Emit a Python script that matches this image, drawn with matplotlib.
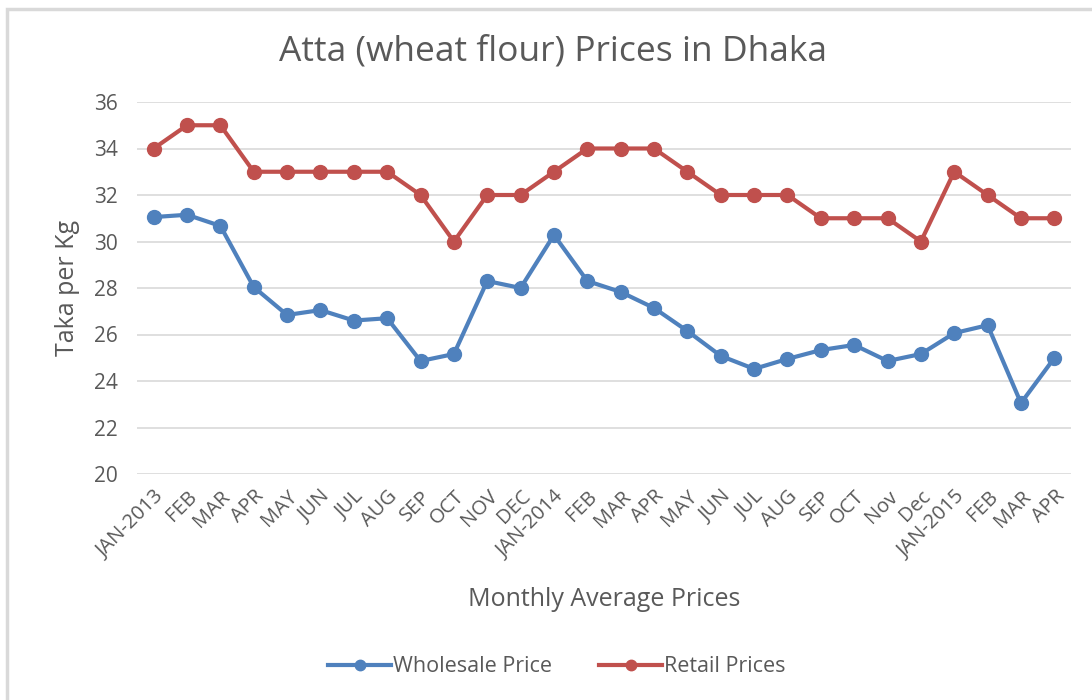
import matplotlib
matplotlib.use("Agg")
import matplotlib.pyplot as plt
from matplotlib.patches import Rectangle

months = ["JAN-2013", "FEB", "MAR", "APR", "MAY", "JUN", "JUL", "AUG", "SEP", "OCT",
          "NOV", "DEC", "JAN-2014", "FEB", "MAR", "APR", "MAY", "JUN", "JUL", "AUG",
          "SEP", "OCT", "Nov", "Dec", "JAN-2015", "FEB", "MAR", "APR"]
wholesale = [31.05, 31.15, 30.67, 28.04, 26.84, 27.05, 26.6, 26.7, 24.86, 25.16,
             28.3, 28.0, 30.28, 28.3, 27.83, 27.14, 26.15, 25.08, 24.52, 24.95,
             25.33, 25.55, 24.86, 25.16, 26.06, 26.4, 23.05, 24.99]
retail = [34, 35, 35, 33, 33, 33, 33, 33, 32, 30,
          32, 32, 33, 34, 34, 34, 33, 32, 32, 32,
          31, 31, 31, 30, 33, 32, 31, 31]
yticks = [20, 22, 24, 26, 28, 30, 32, 34, 36]

plt.rcParams['font.family'] = ['Open Sans', 'DejaVu Sans']
TXT = '#595959'
BLUE = '#4F81BD'
RED = '#C0504D'

fig = plt.figure(figsize=(10.92, 7.0), dpi=100)
ax = fig.add_axes([137/1092, 226/700, 934/1092, 372/700])

x = list(range(len(months)))
ax.plot(x, wholesale, color=BLUE, lw=3, marker='o', ms=10, label='Wholesale Price',
        solid_joinstyle='round', zorder=3)
ax.plot(x, retail, color=RED, lw=3, marker='o', ms=10, label='Retail Prices',
        solid_joinstyle='round', zorder=3)

ax.set_xlim(-0.5, len(months) - 0.5)
ax.set_ylim(20, 36)
ax.set_yticks(yticks)
ax.set_yticklabels([str(v) for v in yticks], fontsize=15, color=TXT)
ax.set_xticks(x)
ax.set_xticklabels(months, rotation=45, ha='right', rotation_mode='anchor',
                   fontsize=14.5, color=TXT)
ax.tick_params(axis='both', length=0)
ax.tick_params(axis='y', pad=14)
ax.tick_params(axis='x', pad=9)
ax.grid(axis='y', color='#D9D9D9', lw=1.2)
ax.set_axisbelow(True)
for s in ax.spines.values():
    s.set_visible(False)

ax.set_ylabel('Taka per Kg', fontsize=18, color=TXT, labelpad=10)
fig.text(604/1092, 1 - 600/700, 'Monthly Average Prices', fontsize=18, color=TXT,
         ha='center', va='center')
fig.text(553/1092, 1 - 51/700, 'Atta (wheat flour) Prices in Dhaka', fontsize=25.5,
         color=TXT, ha='center', va='center')

leg = fig.legend(loc='center', bbox_to_anchor=(557/1092, 1 - 667/700), ncol=2,
                 frameon=False, fontsize=15.5, handlelength=2.9, handletextpad=0.1,
                 columnspacing=2.2, markerscale=0.75)
for t in leg.get_texts():
    t.set_color(TXT)

fig.patches.append(Rectangle((7/1092, -0.1), 1.2, (700 - 9)/700 + 0.1,
                             transform=fig.transFigure, fill=False,
                             edgecolor='#D9D9D9', lw=2.5, zorder=0))

fig.savefig('out.png', dpi=100)
